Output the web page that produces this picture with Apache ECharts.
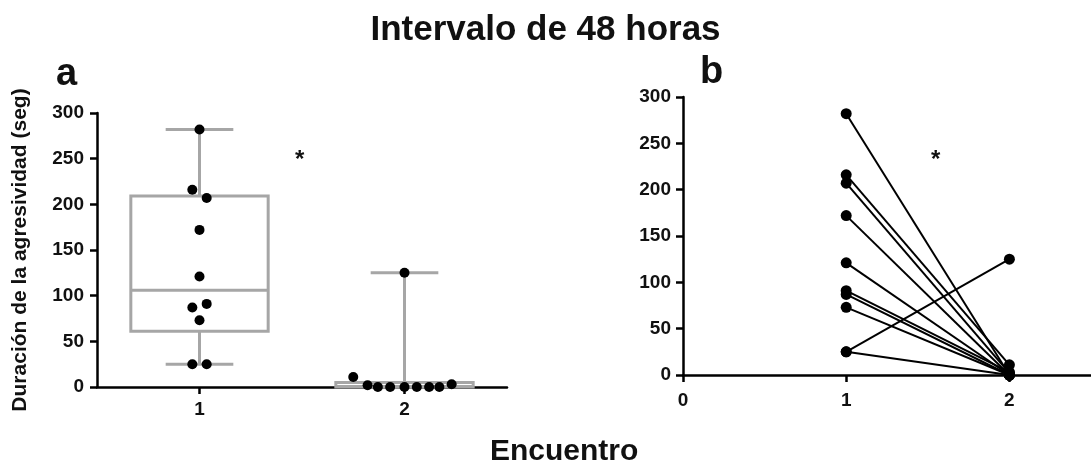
<!DOCTYPE html>
<html><head><meta charset="utf-8">
<script src="https://cdn.jsdelivr.net/npm/echarts@6/dist/echarts.min.js"></script>
<style>html,body{margin:0;padding:0;background:#fff}#c{width:1091px;height:468px}</style>
</head><body><div id="c"></div>
<script>
// ---- data ----
const encuentroTicksA = [1, 2];
const encuentroTicksB = [0, 1, 2];
const yTicks = [0, 50, 100, 150, 200, 250, 300];
// duration (s) per animal, encounter 1 and encounter 2 (paired by index)
const enc1 = [282, 216, 207, 172, 121, 91, 87, 73, 25, 25];
const enc2 = [0, 11, 2, 0, 0, 3, 0, 0, 125, 0];
// horizontal jitter of dots in panel a
const jitter1 = [0, -0.035, 0.035, 0, 0, 0.035, -0.035, 0, -0.035, 0.035];
const jitter2 = [-0.13, -0.25, -0.18, -0.07, 0, 0.23, 0.06, 0.12, 0, 0.17];
// box plot stats [min, q1, median, q3, max]
const box1 = [25, 61, 106, 209, 282];
const box2 = [0, 0, 0.5, 5, 125];

const FONT = 'Liberation Sans, Arial, sans-serif';
const chart = echarts.init(document.getElementById('c'), null, {renderer: 'canvas'});

const ptsA = [];
enc1.forEach((v, i) => ptsA.push([1 + jitter1[i], v]));
enc2.forEach((v, i) => ptsA.push([2 + jitter2[i], v]));

const boxData = [[1].concat(box1), [2].concat(box2)];

const axisLineStyle = {color: '#000', width: 2.5};
const labelStyle = {fontFamily: FONT, fontSize: 19, fontWeight: 'bold', color: '#111'};

const pairSeries = enc1.map((v, i) => ({
  type: 'line', xAxisIndex: 1, yAxisIndex: 1,
  data: [[1, v], [2, enc2[i]]],
  symbol: 'circle', symbolSize: 11, showSymbol: true,
  lineStyle: {color: '#000', width: 2},
  itemStyle: {color: '#000', opacity: 1},
  animation: false, z: 3
}));

chart.setOption({
  animation: false,
  backgroundColor: '#fff',
  title: {
    text: 'Intervalo de 48 horas', left: 'center', top: 8,
    textStyle: {fontFamily: FONT, fontSize: 35, fontWeight: 'bold', color: '#111'}
  },
  grid: [
    {left: 97, top: 113, width: 410, height: 274},
    {left: 683, top: 97, width: 409, height: 278}
  ],
  xAxis: [
    {
      type: 'value', gridIndex: 0, min: 0.5, max: 2.5,
      axisLine: {show: true, lineStyle: axisLineStyle},
      axisTick: {show: true, customValues: encuentroTicksA, length: 7, lineStyle: axisLineStyle},
      axisLabel: Object.assign({customValues: encuentroTicksA, margin: 13}, labelStyle),
      splitLine: {show: false}
    },
    {
      type: 'value', gridIndex: 1, min: 0, max: 2.5,
      axisLine: {show: true, lineStyle: axisLineStyle},
      axisTick: {show: true, customValues: encuentroTicksB, length: 7, lineStyle: axisLineStyle},
      axisLabel: Object.assign({customValues: encuentroTicksB, margin: 16}, labelStyle),
      splitLine: {show: false}
    }
  ],
  yAxis: [
    {
      type: 'value', gridIndex: 0, min: 0, max: 300, interval: 50,
      name: 'Duración de la agresividad (seg)', nameLocation: 'middle', nameGap: 66,
      nameTextStyle: {fontFamily: FONT, fontSize: 21, fontWeight: 'bold', color: '#111'},
      axisLine: {show: true, lineStyle: axisLineStyle},
      axisTick: {show: true, length: 7, lineStyle: axisLineStyle},
      axisLabel: Object.assign({margin: 13}, labelStyle),
      splitLine: {show: false}
    },
    {
      type: 'value', gridIndex: 1, min: 0, max: 300, interval: 50,
      axisLine: {show: true, lineStyle: axisLineStyle},
      axisTick: {show: true, length: 7, lineStyle: axisLineStyle},
      axisLabel: Object.assign({margin: 12}, labelStyle),
      splitLine: {show: false}
    }
  ],
  series: [
    {
      type: 'custom', xAxisIndex: 0, yAxisIndex: 0, z: 1,
      data: boxData,
      renderItem: function (params, api) {
        const x = api.value(0);
        const lo = api.value(1), q1 = api.value(2), med = api.value(3), q3 = api.value(4), hi = api.value(5);
        const unit = api.size([1, 0])[0];
        const bw = unit * 0.335, cw = unit * 0.165;
        const cx = api.coord([x, 0])[0];
        const y = v => api.coord([x, v])[1];
        const st = {stroke: '#a6a6a6', lineWidth: 3, fill: null};
        return {
          type: 'group',
          children: [
            {type: 'line', shape: {x1: cx, y1: y(hi), x2: cx, y2: y(q3)}, style: st},
            {type: 'line', shape: {x1: cx, y1: y(q1), x2: cx, y2: y(lo)}, style: st},
            {type: 'line', shape: {x1: cx - cw, y1: y(hi), x2: cx + cw, y2: y(hi)}, style: st},
            {type: 'line', shape: {x1: cx - cw, y1: y(lo), x2: cx + cw, y2: y(lo)}, style: st},
            {type: 'rect', shape: {x: cx - bw, y: y(q3), width: 2 * bw, height: y(q1) - y(q3)}, style: st},
            {type: 'line', shape: {x1: cx - bw, y1: y(med), x2: cx + bw, y2: y(med)}, style: st}
          ]
        };
      }
    },
    {
      type: 'scatter', xAxisIndex: 0, yAxisIndex: 0, z: 3,
      data: ptsA, symbol: 'circle', symbolSize: 10,
      itemStyle: {color: '#000', opacity: 1}
    }
  ].concat(pairSeries),
  graphic: [
    {type: 'text', left: 56, top: 56, style: {text: 'a', font: 'bold 38px ' + FONT, fill: '#111'}},
    {type: 'text', left: 700, top: 54, style: {text: 'b', font: 'bold 38px ' + FONT, fill: '#111'}},
    {type: 'text', left: 295, top: 148, style: {text: '*', font: 'bold 24px ' + FONT, fill: '#111'}},
    {type: 'text', left: 931, top: 148, style: {text: '*', font: 'bold 24px ' + FONT, fill: '#111'}},
    {type: 'text', left: 490, top: 437, style: {text: 'Encuentro', font: 'bold 30px ' + FONT, fill: '#111'}}
  ]
});
</script></body></html>
